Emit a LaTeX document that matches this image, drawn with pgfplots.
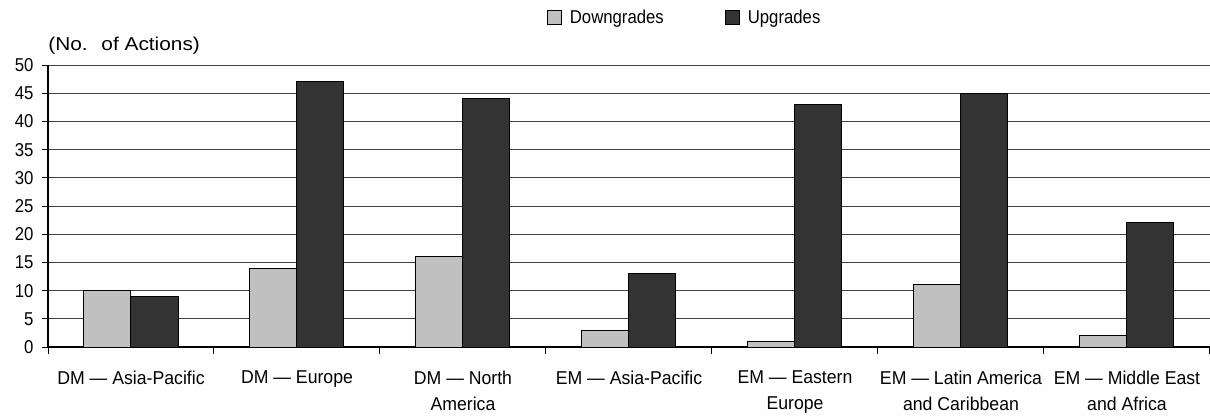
\documentclass[border=0pt]{standalone}
\usepackage{fontspec}
\setmainfont{Liberation Sans}
\newfontfamily\narrowfont[FakeStretch=0.9]{Liberation Sans}
\newfontfamily\labelfont[FakeStretch=0.95]{Liberation Sans}
\newfontfamily\widefont[FakeStretch=1.12]{Liberation Sans}
\usepackage{pgfplots}
\pgfplotsset{compat=1.18}

\definecolor{downc}{HTML}{C0C0C0}
\definecolor{upc}{HTML}{333333}

\begin{document}
\fontsize{9.3bp}{13bp}\selectfont
\begin{tikzpicture}
\begin{axis}[
    at={(0,0)}, anchor=south west,
    scale only axis,
    width=581bp, height=141bp,
    ybar=0pt, bar width=23.5bp,
    xmin=-0.5, xmax=6.5,
    ymin=0, ymax=50,
    ytick={0,5,...,50},
    xtick=data,
    xticklabels={DM — Asia-Pacific, DM — Europe, DM — North\\America, EM — Asia-Pacific, EM — Eastern\\Europe, EM — Latin America\\and Caribbean, EM — Middle East\\and Africa},
    minor xtick={-0.5,0.5,...,6.5},
    major x tick style={draw=none},
    minor x tick style={black, line width=0.5bp},
    y tick style={black, line width=0.5bp},
    tick align=outside,
    major tick length=3bp, minor tick length=3.5bp,
    xticklabel style={align=center, yshift=-5.5bp, font=\labelfont\fontsize{9.3bp}{13bp}\selectfont},
    yticklabel style={font=\narrowfont\fontsize{9.3bp}{13bp}\selectfont, xshift=-1bp},
    /pgf/number format/assume math mode=true,
    axis x line*=bottom, axis y line*=left,
    axis line style={black, line width=0.6bp, -},
    ymajorgrids, grid style={black!75, line width=0.45bp},
    clip=false,
    legend style={at={(0.429,1.167)}, anchor=west, draw=none, fill=none,
      font=\narrowfont\fontsize{9.3bp}{11bp}\selectfont,
      legend columns=2,
      /tikz/every odd column/.append style={column sep=2bp},
      /tikz/every even column/.append style={column sep=28.5bp},
      inner sep=0pt},
    legend image code/.code={\draw[#1] (0bp,-3.5bp) rectangle (7bp,3.5bp);},
]
\addplot[fill=downc, draw=black, line width=0.5bp] coordinates {
    (0,10) (1,14) (2,16) (3,3) (4,1) (5,11) (6,2)
};
\addplot[fill=upc, draw=black, line width=0.5bp] coordinates {
    (0,9) (1,47) (2,44) (3,13) (4,43) (5,45) (6,22)
};
\legend{Downgrades, Upgrades}
\node[anchor=base west, inner sep=0pt, font=\widefont\fontsize{9.3bp}{13bp}\selectfont] at ([yshift=7.5bp, xshift=0bp]rel axis cs:0,1) {(No.\hspace{3bp} of Actions)};
\end{axis}
\pgfresetboundingbox
\path (-24bp,-34.5bp) rectangle (581bp,173.5bp);
\end{tikzpicture}
\end{document}
